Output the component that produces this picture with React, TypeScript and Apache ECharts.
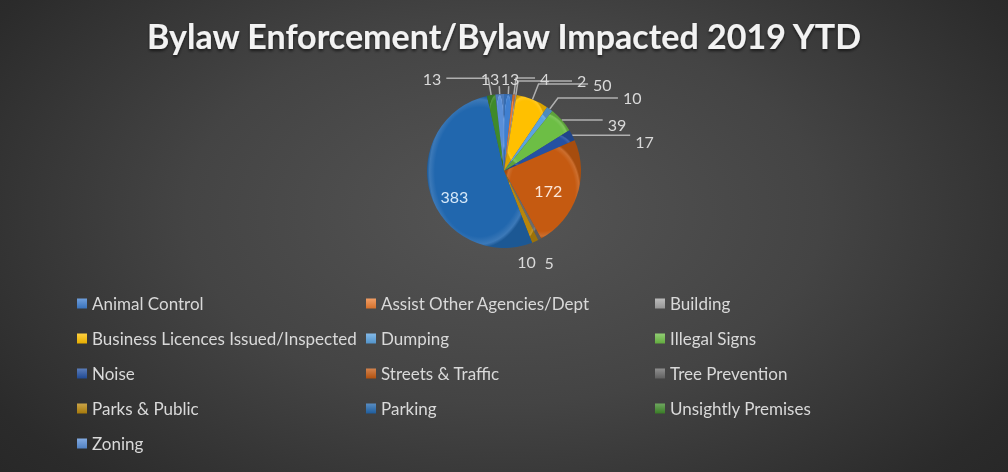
import React, { useEffect, useRef } from "react";
import * as echarts from "echarts";

const categories = [
  "Animal Control",
  "Assist Other Agencies/Dept",
  "Building",
  "Business Licences Issued/Inspected",
  "Dumping",
  "Illegal Signs",
  "Noise",
  "Streets & Traffic",
  "Tree Prevention",
  "Parks & Public",
  "Parking",
  "Unsightly Premises",
  "Zoning",
];
const values = [13, 4, 2, 50, 10, 39, 17, 172, 5, 10, 383, 13, 13];
const colors = [
  "#3F7FD0",
  "#ED7D31",
  "#A5A5A5",
  "#FFC000",
  "#5BA3E0",
  "#6DBE45",
  "#2451A3",
  "#C55A11",
  "#6B6B6B",
  "#B8860B",
  "#2167AE",
  "#3F8A2A",
  "#5A8FD8",
];
const titleText = "Bylaw Enforcement/Bylaw Impacted 2019 YTD";

// label styling tweaks (leader line lengths / label nudges), keyed by category
const labelTweaks: Record<string, any> = {
  "Animal Control": { length: 8, length2: 0, offset: [-13, -8] },
  "Assist Other Agencies/Dept": { length: 16.7, length2: 19 },
  Building: { length: 14.1, length2: 54 },
  "Business Licences Issued/Inspected": { length: 16.6, length2: 49.5 },
  Dumping: { length: 13.8, length2: 60 },
  "Illegal Signs": { length: 0, length2: 41, offset: [0, 5] },
  Noise: { length: 0, length2: 58, offset: [0, 6] },
  "Tree Prevention": { length: 25.7, length2: 0, offset: [-12, 0], hideLine: true },
  "Parks & Public": { length: 22.5, length2: 0, offset: [-32, 0], hideLine: true },
  "Unsightly Premises": { length: 17, length2: 42 },
  Zoning: { length: 8, length2: 0, offset: [5, -8] },
};
const insideLabels: Record<string, { color: string; offset: number[] }> = {
  Parking: { color: "#D6E8F8", offset: [-10, 13] },
  "Streets & Traffic": { color: "#FCE6D8", offset: [5, 6] },
};

function lighten(hex: string, amt: number) {
  const n = parseInt(hex.slice(1), 16);
  let r = (n >> 16) & 255, g = (n >> 8) & 255, b = n & 255;
  r = Math.round(r + (255 - r) * amt);
  g = Math.round(g + (255 - g) * amt);
  b = Math.round(b + (255 - b) * amt);
  return `rgb(${r},${g},${b})`;
}
function darken(hex: string, amt: number) {
  const n = parseInt(hex.slice(1), 16);
  const r = (n >> 16) & 255, g = (n >> 8) & 255, b = n & 255;
  return `rgb(${Math.round(r * (1 - amt))},${Math.round(g * (1 - amt))},${Math.round(b * (1 - amt))})`;
}

export default function App() {
  const ref = useRef<HTMLDivElement>(null);
  useEffect(() => {
    if (!ref.current) return;
    const chart = echarts.init(ref.current, null, { renderer: "svg" });
    const data = categories.map((name, i) => {
      const inside = insideLabels[name];
      const tw = labelTweaks[name];
      const item: any = {
        name,
        value: values[i],
        itemStyle: {
          color: new echarts.graphic.RadialGradient(0.5, 0.5, 0.5, [
            { offset: 0, color: colors[i] },
            { offset: 0.85, color: colors[i] },
            { offset: 0.95, color: lighten(colors[i], 0.12) },
            { offset: 1, color: darken(colors[i], 0.15) },
          ]),
        },
      };
      if (inside) {
        item.label = {
          position: "inside",
          color: inside.color,
          fontSize: 16,
          offset: inside.offset,
        };
        item.labelLine = { show: false };
      } else if (tw) {
        item.label = tw.offset ? { offset: tw.offset } : {};
        item.labelLine = {
          show: !tw.hideLine,
          length: tw.length,
          length2: tw.length2,
        };
      }
      return item;
    });
    const legendIcons = categories.map((name, i) => ({
      name,
      itemStyle: {
        color: new echarts.graphic.LinearGradient(0, 0, 0, 1, [
          { offset: 0, color: lighten(colors[i], 0.25) },
          { offset: 1, color: darken(colors[i], 0.1) },
        ]),
      },
    }));
    chart.setOption({
      animation: false,
      backgroundColor: "transparent",
      title: {
        text: titleText,
        left: "center",
        top: 13,
        textStyle: {
          fontFamily: "Lato",
          fontWeight: "bold",
          fontSize: 34,
          color: "#F2F2F2",
          textShadowColor: "rgba(0,0,0,0.6)",
          textShadowBlur: 3,
          textShadowOffsetY: 2,
        },
      },
      legend: {
        left: 77,
        top: 286,
        width: 880,
        padding: 0,
        itemGap: 0,
        itemWidth: 10,
        itemHeight: 10,
        icon: "rect",
        selectedMode: false,
        data: legendIcons,
        textStyle: {
          fontFamily: "Lato",
          fontSize: 17,
          color: "#D9D9D9",
          width: 274,
          lineHeight: 35,
          overflow: "none",
        },
      },
      series: [
        {
          type: "pie",
          center: [504, 171],
          radius: 77,
          startAngle: 90,
          clockwise: true,
          avoidLabelOverlap: false,
          label: {
            show: true,
            position: "outside",
            formatter: "{c}",
            fontFamily: "Lato",
            fontSize: 16,
            color: "#D9D9D9",
          },
          labelLine: {
            show: true,
            length: 12,
            length2: 22,
            lineStyle: { color: "#B0B0B0", width: 1.5 },
          },
          itemStyle: { borderWidth: 0 },
          data,
        },
      ],
    });
    return () => chart.dispose();
  }, []);
  return (
    <div
      style={{
        position: "fixed",
        left: 0,
        top: 0,
        width: 1008,
        height: 472,
        background:
          "radial-gradient(ellipse 70% 90% at 50% 45%, #555555 0%, #444444 45%, #2b2b2b 85%, #262626 100%)",
      }}
    >
      <div ref={ref} style={{ width: 1008, height: 472 }} />
    </div>
  );
}
